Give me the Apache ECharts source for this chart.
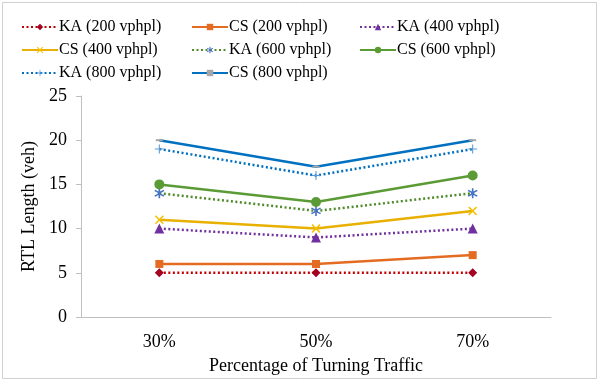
<!DOCTYPE html>
<html><head><meta charset="utf-8">
<script src="https://cdn.jsdelivr.net/npm/echarts@6/dist/echarts.min.js"></script>
<style>html,body{margin:0;padding:0;background:#fff}#c{width:600px;height:382px}</style>
</head><body><div id="c"></div>
<script>
const categories = ['30%', '50%', '70%'];
const ka200 = [5, 5, 5];
const cs200 = [6, 6, 7];
const ka400 = [10, 9, 10];
const cs400 = [11, 10, 12];
const ka600 = [14, 12, 14];
const cs600 = [15, 13, 16];
const ka800 = [19, 16, 19];
const cs800 = [20, 17, 20];
const yTicks = [0, 5, 10, 15, 20, 25];

const FONT = '"Liberation Serif", "Times New Roman", serif';
const xSym = 'path://M0,1.2L1.2,0L5,3.8L8.8,0L10,1.2L6.2,5L10,8.8L8.8,10L5,6.2L1.2,10L0,8.8L3.8,5Z';
const starSym = 'path://M4.3,0H5.7V3.3L8.6,1.6L9.3,2.8L6.4,4.4V5.6L9.3,7.2L8.6,8.4L5.7,6.7V10H4.3V6.7L1.4,8.4L0.7,7.2L3.6,5.6V4.4L0.7,2.8L1.4,1.6L4.3,3.3Z';
const plusSym = 'path://M4.4,0H5.6V4.4H10V5.6H5.6V10H4.4V5.6H0V4.4H4.4Z';

function mk(name, data, color, dotted, symbol, size, symColor) {
  return {
    name, type: 'line', data,
    symbol, symbolSize: size,
    lineStyle: { color, width: 2.5, type: dotted ? [2, 2.5] : 'solid' },
    itemStyle: { color: symColor || color, borderWidth: 0 },
    emphasis: { disabled: true },
    animation: false
  };
}

const series = [
  mk('KA (200 vphpl)', ka200, '#C00000', true, 'diamond', 9, '#A50021'),
  mk('CS (200 vphpl)', cs200, '#E46C22', false, 'rect', 8),
  mk('KA (400 vphpl)', ka400, '#7030A0', true, 'triangle', 10),
  mk('CS (400 vphpl)', cs400, '#E8B000', false, xSym, 9, '#F5C000'),
  mk('KA (600 vphpl)', ka600, '#4F8A2B', true, starSym, 10, '#4472C4'),
  mk('CS (600 vphpl)', cs600, '#5B9B36', false, 'circle', 10),
  mk('KA (800 vphpl)', ka800, '#0070C0', true, plusSym, 9, '#5B9BD5'),
  mk('CS (800 vphpl)', cs800, '#0070C0', false, 'rect', [7, 2], '#A6A6A6')
];

function leg(left, names) {
  return {
    orient: 'vertical', left, top: 14, itemGap: 7, itemWidth: 36, itemHeight: 8,
    data: names, selectedMode: false,
    textStyle: { fontFamily: FONT, fontSize: 16, color: '#000', padding: [0, 0, 0, -4], lineHeight: 16 }
  };
}

const chart = echarts.init(document.getElementById('c'), null, { renderer: 'canvas' });
chart.setOption({
  animation: false,
  backgroundColor: '#fff',
  graphic: [{ type: 'rect', shape: { x: 2.5, y: 2.5, width: 594, height: 376 }, style: { fill: 'none', stroke: '#D0D0D0', lineWidth: 1 } }],
  legend: [
    leg(16, ['KA (200 vphpl)', 'CS (400 vphpl)', 'KA (800 vphpl)']),
    leg(186, ['CS (200 vphpl)', 'KA (600 vphpl)', 'CS (800 vphpl)']),
    leg(354, ['KA (400 vphpl)', 'CS (600 vphpl)'])
  ],
  grid: { left: 81, right: 49, top: 96, bottom: 65, containLabel: false, outerBoundsMode: 'none' },
  xAxis: {
    type: 'category', data: categories, boundaryGap: true,
    name: 'Percentage of Turning Traffic', nameLocation: 'middle', nameGap: 40,
    nameTextStyle: { fontFamily: FONT, fontSize: 18, color: '#000' },
    axisLine: { lineStyle: { color: '#BFBFBF', width: 1 } },
    axisTick: { lineStyle: { color: '#BFBFBF' }, length: 5 },
    axisLabel: { fontFamily: FONT, fontSize: 18, color: '#000', margin: 16 },
    splitLine: { show: false }
  },
  yAxis: {
    type: 'value', min: yTicks[0], max: yTicks[yTicks.length - 1], interval: 5,
    name: 'RTL Length (veh)', nameLocation: 'middle', nameGap: 35,
    nameTextStyle: { fontFamily: FONT, fontSize: 18, color: '#000' },
    axisLine: { show: true, lineStyle: { color: '#BFBFBF', width: 1 } },
    axisTick: { show: true, lineStyle: { color: '#BFBFBF' }, length: 5 },
    axisLabel: { fontFamily: FONT, fontSize: 18, color: '#000', margin: 14 },
    splitLine: { show: false }
  },
  series
});
</script></body></html>
